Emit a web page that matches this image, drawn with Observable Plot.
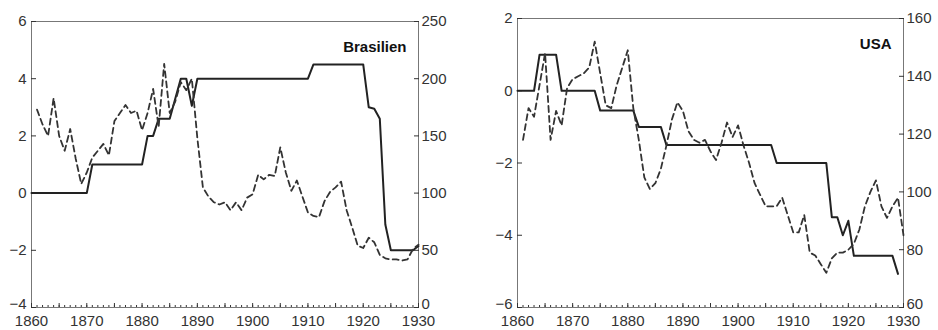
<!DOCTYPE html>
<html><head><meta charset="utf-8">
<script src="https://cdn.jsdelivr.net/npm/d3@7"></script>
<script src="https://cdn.jsdelivr.net/npm/@observablehq/plot@0.6"></script>
<style>
body{margin:0;background:#fff;}
#wrap{display:flex;width:938px;height:330px;overflow:hidden;}
#wrap svg{display:block;}
</style></head><body><div id="wrap"></div>
<script>
// ---- Data ----
const decades = [1860, 1870, 1880, 1890, 1900, 1910, 1920, 1930];

// Brasilien: solid line (left axis), 1860–1930
const brSolidStart = 1860;
const brSolid = [
  0,0,0,0,0,0,0,0,0,0,0,            // 1860-1870
  1,1,1,1,1,1,1,1,1,1,              // 1871-1880
  2,2,                              // 1881-1882
  2.6,2.6,2.6,                      // 1883-1885
  3.3,                              // 1886
  4,4,                              // 1887-1888
  3.05,                             // 1889
  4,4,4,4,4,4,4,4,4,4,4,4,4,4,4,4,4,4,4,4,4, // 1890-1910
  4.5,4.5,4.5,4.5,4.5,4.5,4.5,4.5,4.5,4.5,   // 1911-1920
  3.0,2.95,2.6,                     // 1921-1923
  -1.1,                             // 1924
  -2,-2,-2,-2,-2,                   // 1925-1929
  -1.85                             // 1930
];
// Brasilien: dashed line (right axis 0–250), 1861–1930
const brDashStart = 1861;
const brDash = [
  173,160,150,183,150,137,156,130,108,118,
  131,137,143,133,163,170,177,170,172,155,
  170,191,158,213,170,180,197,190,200,148,
  105,97,92,90,92,85,92,85,96,99,
  116,112,116,115,140,118,102,111,97,83,
  80,79,93,101,105,110,85,70,54,52,
  61,57,46,43,42,42,41,42,51,55
];
const brLeftTicks = [-4, -2, 0, 2, 4, 6];
const brRightTicks = [0, 50, 100, 150, 200, 250];

// USA: solid line (left axis), 1860–1929
const usSolidStart = 1860;
const usSolid = [
  0,0,0,0,                          // 1860-1863
  1,1,1,1,                          // 1864-1867
  0,0,0,0,0,0,0,                    // 1868-1874
  -0.55,-0.55,-0.55,-0.55,-0.55,-0.55,-0.55, // 1875-1881
  -1,-1,-1,-1,-1,                   // 1882-1886
  -1.5,-1.5,-1.5,-1.5,-1.5,-1.5,-1.5,-1.5,-1.5,-1.5,
  -1.5,-1.5,-1.5,-1.5,-1.5,-1.5,-1.5,-1.5,-1.5,-1.5, // 1887-1906
  -2,-2,-2,-2,-2,-2,-2,-2,-2,-2,    // 1907-1916
  -3.5,-3.5,                        // 1917-1918
  -4.0,                             // 1919
  -3.6,                             // 1920
  -4.57,-4.57,-4.57,-4.57,-4.57,-4.57,-4.57,-4.57, // 1921-1928
  -5.07                             // 1929
];
// USA: dashed line (right axis 60–160), 1861–1930
const usDashStart = 1861;
const usDash = [
  118,129,126,137,148,118,128,123,136,139,
  140,141,143,152,141,130,129,137,143,149,
  129,118,105,101,103,108,116,125,131,128,
  121,118,117,118,114,111,117,124,119,123,
  116,110,103,99,95,95,95,98,92,86,
  86,92,79,78,75,72,77,79,79,80,
  82,87,95,100,104,95,91,95,98,85
];
const usLeftTicks = [-6, -4, -2, 0, 2];
const usRightTicks = [60, 80, 100, 120, 140, 160];

// ---- Drawing ----
const allYears = d3.range(1860, 1931);
const fiveYears = d3.range(1860, 1931, 5);
const fmtMinus = d => d < 0 ? "\u2212" + Math.abs(d) : String(d);

function panel({solidStart, solid, dashStart, dash, yDomain, rDomain, leftTicks, rightTicks,
                title, width, marginLeft, marginRight, marginTop}) {
  const [y0, y1] = yDomain, [r0, r1] = rDomain;
  const toLeft = v => y0 + (v - r0) / (r1 - r0) * (y1 - y0);
  const fromLeft = y => r0 + (y - y0) / (y1 - y0) * (r1 - r0);
  const solidData = solid.map((v, i) => ({year: solidStart + i, v}));
  const dashData = dash.map((v, i) => ({year: dashStart + i, v: toLeft(v)}));
  const rightPos = rightTicks.map(toLeft);
  const rightFmt = d => String(Math.round(fromLeft(d)));
  return Plot.plot({
    width, height: 330, marginLeft, marginRight, marginTop, marginBottom: 23,
    x: {domain: [1860, 1930], label: null},
    y: {domain: yDomain, label: null},
    style: {fontFamily: "'Liberation Sans', Arial, sans-serif", fontSize: "15px", color: "#333", background: "white"},
    marks: [
      Plot.frame({stroke: "#777", strokeWidth: 1}),
      Plot.axisY(leftTicks, {anchor: "left", tickSize: -5, tickFormat: () => "", label: null}),
      Plot.axisY(leftTicks.slice(1), {anchor: "left", tickSize: 0, tickPadding: 5, tickFormat: fmtMinus, label: null}),
      Plot.axisY(leftTicks.slice(0, 1), {anchor: "left", tickSize: 0, tickPadding: 5, dy: -3, tickFormat: fmtMinus, label: null}),
      Plot.axisY(rightPos, {anchor: "right", tickSize: -5, tickFormat: () => "", label: null}),
      Plot.axisY(rightPos.slice(1), {anchor: "right", tickSize: 0, tickPadding: 3, tickFormat: rightFmt, label: null}),
      Plot.axisY(rightPos.slice(0, 1), {anchor: "right", tickSize: 0, tickPadding: 3, dy: -3, tickFormat: rightFmt, label: null}),
      Plot.axisX(allYears, {anchor: "bottom", tickSize: -2, tickFormat: () => "", label: null}),
      Plot.axisX(fiveYears, {anchor: "bottom", tickSize: -4, tickFormat: () => "", label: null}),
      Plot.axisX(decades, {anchor: "bottom", tickSize: 0, tickPadding: 8, tickFormat: d => String(d), label: null}),
      Plot.line(solidData, {x: "year", y: "v", stroke: "#222", strokeWidth: 2}),
      Plot.line(dashData, {x: "year", y: "v", stroke: "#333", strokeWidth: 1.8, strokeDasharray: "6,4"}),
      Plot.text([title], {frameAnchor: "top-right", dx: -12, dy: 20, text: d => d,
        fontWeight: "bold", fontSize: 15, fill: "#111", textAnchor: "end"})
    ]
  });
}

const wrap = document.getElementById("wrap");
wrap.append(panel({
  solidStart: brSolidStart, solid: brSolid, dashStart: brDashStart, dash: brDash,
  yDomain: [-4, 6], rDomain: [0, 250], leftTicks: brLeftTicks, rightTicks: brRightTicks,
  title: "Brasilien", width: 469, marginLeft: 31, marginRight: 51, marginTop: 21
}));
wrap.append(panel({
  solidStart: usSolidStart, solid: usSolid, dashStart: usDashStart, dash: usDash,
  yDomain: [-6, 2], rDomain: [60, 160], leftTicks: usLeftTicks, rightTicks: usRightTicks,
  title: "USA", width: 469, marginLeft: 48, marginRight: 35, marginTop: 18
}));
</script>
</body></html>
